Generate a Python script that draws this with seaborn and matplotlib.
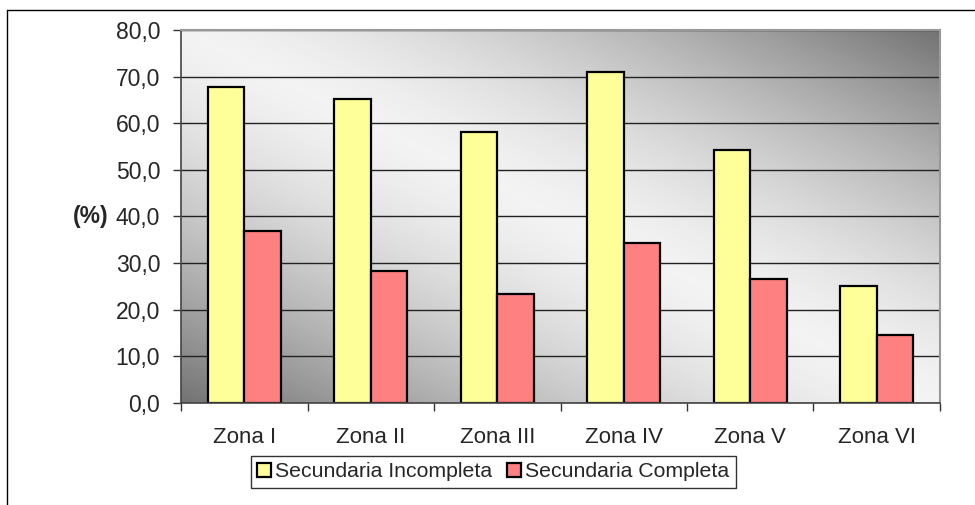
import matplotlib
matplotlib.use("Agg")
import matplotlib.pyplot as plt
import numpy as np
import pandas as pd
import seaborn as sns
from matplotlib.lines import Line2D
from matplotlib.patches import Patch
from matplotlib.ticker import FuncFormatter

zonas = ["Zona I", "Zona II", "Zona III", "Zona IV", "Zona V", "Zona VI"]
incompleta = [67.7, 65.2, 58.2, 70.9, 54.3, 25.2]
completa = [36.8, 28.3, 23.4, 34.4, 26.7, 14.5]
series = ["Secundaria Incompleta", "Secundaria Completa"]
colors = ["#FFFF99", "#FF8080"]

df = pd.DataFrame({
  "zona": zonas * 2,
  "serie": [series[0]] * len(zonas) + [series[1]] * len(zonas),
  "valor": incompleta + completa,
})

sns.set_style("white")
plt.rcParams["font.family"] = ["Liberation Sans", "DejaVu Sans"]

fig = plt.figure(figsize=(9.75, 5.05), dpi=100)
ax = fig.add_axes([181 / 975, 1 - 403 / 505, 759 / 975, 373 / 505])

sns.barplot(
  data=df, x="zona", y="valor", hue="serie", hue_order=series,
  palette=colors, saturation=1, width=0.58, gap=0, edgecolor="black",
  linewidth=1.6, legend=False, ax=ax, zorder=2,
)

ax.set_xlim(-0.5, 5.5)
ax.set_ylim(0, 80)

# diagonal grey gradient behind the bars
u = np.linspace(0, 1, 400)
v = np.linspace(0, 1, 200)
U, V = np.meshgrid(u, v)
d = np.abs(U - V)
grad = 0.95 - 0.5 * d ** 1.5
ax.imshow(grad, extent=(-0.5, 5.5, 0, 80), aspect="auto", cmap="gray",
          vmin=0, vmax=1, zorder=0, origin="upper", interpolation="bilinear")

ax.set_yticks(np.arange(0, 81, 10))
ax.yaxis.set_major_formatter(FuncFormatter(lambda val, pos: f"{val:.1f}".replace(".", ",")))
ax.yaxis.grid(True, color="#222222", linewidth=1.0, zorder=1)
ax.set_axisbelow(True)

ax.set_xticks(np.arange(-0.5, 6, 1))
ax.set_xticklabels([])
ax.set_xticks(range(len(zonas)), labels=zonas, minor=True)
ax.tick_params(axis="x", which="major", length=6, width=1, color="#333333", direction="out", bottom=True)
ax.tick_params(axis="x", which="minor", length=0, pad=17, labelsize=16)
ax.tick_params(axis="y", length=6, width=1, color="#333333", direction="out", left=True, pad=9, labelsize=16.5)

ax.set_xlabel("")
ax.set_ylabel("(%)", fontsize=16.5, fontweight="bold", rotation=0, ha="right", va="center")
ax.yaxis.set_label_coords(-0.096, 0.5)

for side in ["left", "bottom"]:
  ax.spines[side].set_color("#444444")
  ax.spines[side].set_linewidth(1.2)
for side in ["top", "right"]:
  ax.spines[side].set_color("#999999")
  ax.spines[side].set_linewidth(1.5)

handles = [Patch(facecolor=c, edgecolor="black", linewidth=1.6) for c in colors]
leg = fig.legend(
  handles, series, loc="upper center", bbox_to_anchor=(493 / 975, 1 - 456 / 505),
  ncol=2, fontsize=15.3, frameon=True, fancybox=False, shadow=False,
  handlelength=0.65, handleheight=0.65, handletextpad=0.2, columnspacing=0.7,
  borderpad=0.3, borderaxespad=0,
)
leg.get_frame().set_edgecolor("black")
leg.get_frame().set_linewidth(1.0)

# outer chart frame (only top and left edges visible)
fig.add_artist(Line2D([7 / 975, 1], [1 - 10 / 505, 1 - 10 / 505], transform=fig.transFigure, color="black", lw=1))
fig.add_artist(Line2D([7 / 975, 7 / 975], [0, 1 - 10 / 505], transform=fig.transFigure, color="black", lw=1))

fig.savefig("out.png", dpi=100)
